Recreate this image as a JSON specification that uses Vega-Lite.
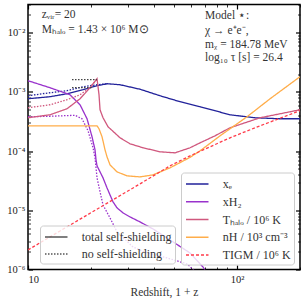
{
  "$schema": "https://vega.github.io/schema/vega-lite/v6.json",
  "autosize": {"type": "none"},
  "padding": {"left": 28, "top": 4.5, "right": 5, "bottom": 34.5},
  "width": 272,
  "height": 265,
  "datasets": {
    "lines": [
      {"id": "xe_t", "s": "xe", "d": "total self-shielding", "x": 10, "y": 7.67e-4},
      {"id": "xe_t", "s": "xe", "d": "total self-shielding", "x": 12.74, "y": 8.30e-4},
      {"id": "xe_t", "s": "xe", "d": "total self-shielding", "x": 15.37, "y": 9.32e-4},
      {"id": "xe_t", "s": "xe", "d": "total self-shielding", "x": 18.33, "y": 1.089e-3},
      {"id": "xe_t", "s": "xe", "d": "total self-shielding", "x": 21.39, "y": 1.273e-3},
      {"id": "xe_t", "s": "xe", "d": "total self-shielding", "x": 23.88, "y": 1.376e-3},
      {"id": "xe_t", "s": "xe", "d": "total self-shielding", "x": 27.56, "y": 1.323e-3},
      {"id": "xe_t", "s": "xe", "d": "total self-shielding", "x": 34.35, "y": 1.11e-3},
      {"id": "xe_t", "s": "xe", "d": "total self-shielding", "x": 42.81, "y": 8.62e-4},
      {"id": "xe_t", "s": "xe", "d": "total self-shielding", "x": 50.51, "y": 7.24e-4},
      {"id": "xe_t", "s": "xe", "d": "total self-shielding", "x": 66.53, "y": 5.62e-4},
      {"id": "xe_t", "s": "xe", "d": "total self-shielding", "x": 92.58, "y": 4.11e-4},
      {"id": "xe_t", "s": "xe", "d": "total self-shielding", "x": 121.93, "y": 3.66e-4},
      {"id": "xe_t", "s": "xe", "d": "total self-shielding", "x": 160.65, "y": 3.52e-4},
      {"id": "xe_t", "s": "xe", "d": "total self-shielding", "x": 200, "y": 3.52e-4},
      {"id": "xe_n", "s": "xe", "d": "no self-shielding", "x": 10, "y": 8.62e-4},
      {"id": "xe_n", "s": "xe", "d": "no self-shielding", "x": 12.74, "y": 9.69e-4},
      {"id": "xe_n", "s": "xe", "d": "no self-shielding", "x": 15.37, "y": 1.048e-3},
      {"id": "xe_n", "s": "xe", "d": "no self-shielding", "x": 18.33, "y": 1.225e-3},
      {"id": "xe_n", "s": "xe", "d": "no self-shielding", "x": 21.39, "y": 1.323e-3},
      {"id": "xe_n", "s": "xe", "d": "no self-shielding", "x": 23.88, "y": 1.376e-3},
      {"id": "h2_t", "s": "xH2", "d": "total self-shielding", "x": 10, "y": 1.547e-3},
      {"id": "h2_t", "s": "xH2", "d": "total self-shielding", "x": 12.74, "y": 1.178e-3},
      {"id": "h2_t", "s": "xH2", "d": "total self-shielding", "x": 15.88, "y": 8.97e-4},
      {"id": "h2_t", "s": "xH2", "d": "total self-shielding", "x": 17.74, "y": 6.07e-4},
      {"id": "h2_t", "s": "xH2", "d": "total self-shielding", "x": 19.16, "y": 3.52e-4},
      {"id": "h2_t", "s": "xH2", "d": "total self-shielding", "x": 20.24, "y": 1.75e-4},
      {"id": "h2_t", "s": "xH2", "d": "total self-shielding", "x": 20.92, "y": 1.05e-4},
      {"id": "h2_t", "s": "xH2", "d": "total self-shielding", "x": 21.15, "y": 7.13e-5},
      {"id": "h2_t", "s": "xH2", "d": "total self-shielding", "x": 21.39, "y": 5.64e-5},
      {"id": "h2_t", "s": "xH2", "d": "total self-shielding", "x": 22.11, "y": 4.46e-5},
      {"id": "h2_t", "s": "xH2", "d": "total self-shielding", "x": 22.85, "y": 3.53e-5},
      {"id": "h2_t", "s": "xH2", "d": "total self-shielding", "x": 23.88, "y": 2.39e-5},
      {"id": "h2_t", "s": "xH2", "d": "total self-shielding", "x": 24.68, "y": 1.82e-5},
      {"id": "h2_t", "s": "xH2", "d": "total self-shielding", "x": 25.51, "y": 1.39e-5},
      {"id": "h2_t", "s": "xH2", "d": "total self-shielding", "x": 26.66, "y": 1.10e-5},
      {"id": "h2_t", "s": "xH2", "d": "total self-shielding", "x": 28.48, "y": 9.04e-6},
      {"id": "h2_t", "s": "xH2", "d": "total self-shielding", "x": 30.77, "y": 7.73e-6},
      {"id": "h2_t", "s": "xH2", "d": "total self-shielding", "x": 34.35, "y": 6.36e-6},
      {"id": "h2_t", "s": "xH2", "d": "total self-shielding", "x": 39.63, "y": 4.84e-6},
      {"id": "h2_t", "s": "xH2", "d": "total self-shielding", "x": 47.79, "y": 3.16e-6},
      {"id": "h2_t", "s": "xH2", "d": "total self-shielding", "x": 59.60, "y": 1.90e-6},
      {"id": "h2_t", "s": "xH2", "d": "total self-shielding", "x": 68.77, "y": 1.10e-6},
      {"id": "h2_t", "s": "xH2", "d": "total self-shielding", "x": 71.08, "y": 9.07e-7},
      {"id": "h2_n", "s": "xH2", "d": "no self-shielding", "x": 10, "y": 3.81e-4},
      {"id": "h2_n", "s": "xH2", "d": "no self-shielding", "x": 12.74, "y": 3.88e-4},
      {"id": "h2_n", "s": "xH2", "d": "no self-shielding", "x": 16.79, "y": 4.03e-4},
      {"id": "h2_n", "s": "xH2", "d": "no self-shielding", "x": 18.13, "y": 3.52e-4},
      {"id": "h2_n", "s": "xH2", "d": "no self-shielding", "x": 19.37, "y": 2.21e-4},
      {"id": "h2_n", "s": "xH2", "d": "no self-shielding", "x": 20.46, "y": 1.14e-4},
      {"id": "h2_n", "s": "xH2", "d": "no self-shielding", "x": 20.92, "y": 7.70e-5},
      {"id": "h2_n", "s": "xH2", "d": "no self-shielding", "x": 21.39, "y": 3.53e-5},
      {"id": "h2_n", "s": "xH2", "d": "no self-shielding", "x": 22.11, "y": 2.05e-5},
      {"id": "h2_n", "s": "xH2", "d": "no self-shielding", "x": 22.85, "y": 1.23e-5},
      {"id": "h2_n", "s": "xH2", "d": "no self-shielding", "x": 24.68, "y": 7.43e-6},
      {"id": "h2_n", "s": "xH2", "d": "no self-shielding", "x": 26.66, "y": 4.31e-6},
      {"id": "h2_n", "s": "xH2", "d": "no self-shielding", "x": 31.80, "y": 2.40e-6},
      {"id": "h2_n", "s": "xH2", "d": "no self-shielding", "x": 37.10, "y": 1.90e-6},
      {"id": "h2_n", "s": "xH2", "d": "no self-shielding", "x": 46.25, "y": 1.57e-6},
      {"id": "h2_n", "s": "xH2", "d": "no self-shielding", "x": 57.65, "y": 1.24e-6},
      {"id": "h2_n", "s": "xH2", "d": "no self-shielding", "x": 63.67, "y": 9.07e-7},
      {"id": "th_t", "s": "Thalo", "d": "total self-shielding", "x": 10, "y": 3.66e-4},
      {"id": "th_t", "s": "Thalo", "d": "total self-shielding", "x": 12.74, "y": 4.11e-4},
      {"id": "th_t", "s": "Thalo", "d": "total self-shielding", "x": 15.37, "y": 5.20e-4},
      {"id": "th_t", "s": "Thalo", "d": "total self-shielding", "x": 17.74, "y": 7.67e-4},
      {"id": "th_t", "s": "Thalo", "d": "total self-shielding", "x": 19.80, "y": 1.178e-3},
      {"id": "th_t", "s": "Thalo", "d": "total self-shielding", "x": 21.39, "y": 1.672e-3},
      {"id": "th_t", "s": "Thalo", "d": "total self-shielding", "x": 21.86, "y": 8.97e-4},
      {"id": "th_t", "s": "Thalo", "d": "total self-shielding", "x": 22.11, "y": 5.00e-4},
      {"id": "th_t", "s": "Thalo", "d": "total self-shielding", "x": 22.85, "y": 3.66e-4},
      {"id": "th_t", "s": "Thalo", "d": "total self-shielding", "x": 24.14, "y": 2.58e-4},
      {"id": "th_t", "s": "Thalo", "d": "total self-shielding", "x": 27.56, "y": 1.68e-4},
      {"id": "th_t", "s": "Thalo", "d": "total self-shielding", "x": 30.77, "y": 1.33e-4},
      {"id": "th_t", "s": "Thalo", "d": "total self-shielding", "x": 35.50, "y": 1.14e-4},
      {"id": "th_t", "s": "Thalo", "d": "total self-shielding", "x": 42.81, "y": 9.73e-5},
      {"id": "th_t", "s": "Thalo", "d": "total self-shielding", "x": 50.51, "y": 9.36e-5},
      {"id": "th_t", "s": "Thalo", "d": "total self-shielding", "x": 59.60, "y": 1.14e-4},
      {"id": "th_t", "s": "Thalo", "d": "total self-shielding", "x": 66.53, "y": 1.38e-4},
      {"id": "th_t", "s": "Thalo", "d": "total self-shielding", "x": 78.49, "y": 1.815e-4},
      {"id": "th_t", "s": "Thalo", "d": "total self-shielding", "x": 92.58, "y": 2.48e-4},
      {"id": "th_t", "s": "Thalo", "d": "total self-shielding", "x": 128.85, "y": 3.66e-4},
      {"id": "th_t", "s": "Thalo", "d": "total self-shielding", "x": 179.3, "y": 4.62e-4},
      {"id": "th_t", "s": "Thalo", "d": "total self-shielding", "x": 200, "y": 5.00e-4},
      {"id": "th_n", "s": "Thalo", "d": "no self-shielding", "x": 10, "y": 5.40e-4},
      {"id": "th_n", "s": "Thalo", "d": "no self-shielding", "x": 12.74, "y": 6.07e-4},
      {"id": "th_n", "s": "Thalo", "d": "no self-shielding", "x": 15.37, "y": 7.38e-4},
      {"id": "th_n", "s": "Thalo", "d": "no self-shielding", "x": 17.74, "y": 8.97e-4},
      {"id": "th_n", "s": "Thalo", "d": "no self-shielding", "x": 19.80, "y": 1.178e-3},
      {"id": "th_n", "s": "Thalo", "d": "no self-shielding", "x": 21.39, "y": 1.672e-3},
      {"id": "nh_t", "s": "nH", "d": "total self-shielding", "x": 10, "y": 2.68e-4},
      {"id": "nh_t", "s": "nH", "d": "total self-shielding", "x": 21.39, "y": 2.68e-4},
      {"id": "nh_t", "s": "nH", "d": "total self-shielding", "x": 21.86, "y": 2.38e-4},
      {"id": "nh_t", "s": "nH", "d": "total self-shielding", "x": 22.60, "y": 1.75e-4},
      {"id": "nh_t", "s": "nH", "d": "total self-shielding", "x": 23.36, "y": 1.05e-4},
      {"id": "nh_t", "s": "nH", "d": "total self-shielding", "x": 23.88, "y": 8.0e-5},
      {"id": "nh_t", "s": "nH", "d": "total self-shielding", "x": 24.68, "y": 5.86e-5},
      {"id": "nh_t", "s": "nH", "d": "total self-shielding", "x": 26.66, "y": 4.46e-5},
      {"id": "nh_t", "s": "nH", "d": "total self-shielding", "x": 29.77, "y": 3.82e-5},
      {"id": "nh_t", "s": "nH", "d": "total self-shielding", "x": 34.35, "y": 3.67e-5},
      {"id": "nh_t", "s": "nH", "d": "total self-shielding", "x": 39.63, "y": 3.97e-5},
      {"id": "nh_t", "s": "nH", "d": "total self-shielding", "x": 47.79, "y": 5.22e-5},
      {"id": "nh_t", "s": "nH", "d": "total self-shielding", "x": 59.60, "y": 7.85e-5},
      {"id": "nh_t", "s": "nH", "d": "total self-shielding", "x": 66.53, "y": 1.012e-4},
      {"id": "nh_t", "s": "nH", "d": "total self-shielding", "x": 82.94, "y": 1.815e-4},
      {"id": "nh_t", "s": "nH", "d": "total self-shielding", "x": 111.66, "y": 3.81e-4},
      {"id": "nh_t", "s": "nH", "d": "total self-shielding", "x": 143.88, "y": 7.67e-4},
      {"id": "nh_t", "s": "nH", "d": "total self-shielding", "x": 200, "y": 1.808e-3},
      {"id": "tigm", "s": "TIGM", "d": "IGM", "x": 10, "y": 2.14e-6},
      {"id": "tigm", "s": "TIGM", "d": "IGM", "x": 14.23, "y": 4.48e-6},
      {"id": "tigm", "s": "TIGM", "d": "IGM", "x": 22.11, "y": 1.12e-5},
      {"id": "tigm", "s": "TIGM", "d": "IGM", "x": 34.35, "y": 2.80e-5},
      {"id": "tigm", "s": "TIGM", "d": "IGM", "x": 47.79, "y": 5.64e-5},
      {"id": "tigm", "s": "TIGM", "d": "IGM", "x": 59.60, "y": 8.33e-5},
      {"id": "tigm", "s": "TIGM", "d": "IGM", "x": 92.58, "y": 1.68e-4},
      {"id": "tigm", "s": "TIGM", "d": "IGM", "x": 128.85, "y": 2.68e-4},
      {"id": "tigm", "s": "TIGM", "d": "IGM", "x": 200, "y": 4.81e-4},
      {"id": "g1", "s": "guide", "d": "no self-shielding", "x": 16.24, "y": 1.608e-3},
      {"id": "g1", "s": "guide", "d": "no self-shielding", "x": 21.39, "y": 1.608e-3},
      {"id": "g2", "s": "guide", "d": "no self-shielding", "x": 16.24, "y": 1.178e-3},
      {"id": "g2", "s": "guide", "d": "no self-shielding", "x": 20.46, "y": 1.178e-3}
    ],
    "notes": [
      {"x": 11.63, "y": 0.0202, "t": "zᵥᵢᵣ= 20"},
      {"x": 11.63, "y": 0.01128, "t": "Mₕₐₗₒ = 1.43 × 10⁶ M⊙"},
      {"x": 70.3, "y": 0.01947, "t": "Model ⋆:"},
      {"x": 70.3, "y": 0.01085, "t": "χ → e⁺e⁻,"},
      {"x": 70.3, "y": 0.00629, "t": "mᵪ = 184.78 MeV"},
      {"x": 70.3, "y": 0.00379, "t": "log₁₀ τ [s] = 26.4"}
    ]
  },
  "config": {
    "view": {"stroke": "#000", "strokeWidth": 1.5},
    "axis": {
      "grid": false, "domain": false, "tickColor": "#000",
      "labelFont": "Liberation Serif", "labelFontSize": 10.5, "labelColor": "#222",
      "titleFont": "Liberation Serif", "titleFontSize": 11.5, "titleFontWeight": "normal", "titleColor": "#333"
    },
    "legend": {
      "labelFont": "Liberation Serif", "labelFontSize": 12, "labelColor": "#333",
      "fillColor": "rgba(255,255,255,0.8)", "strokeColor": "#cccccc", "cornerRadius": 3,
      "symbolType": "M-1.5,0H1.5", "symbolStrokeWidth": 1.5, "symbolSize": 225,
      "symbolOffset": 4.75, "labelOffset": 17, "padding": 3
    }
  },
  "layer": [
    {
      "data": {"name": "lines"},
      "mark": {"type": "line", "strokeWidth": 1.3, "clip": true},
      "encoding": {
        "x": {
          "field": "x", "type": "quantitative",
          "scale": {"type": "log", "domain": [10, 200]},
          "axis": {
            "orient": "bottom", "title": "Redshift, 1 + z", "titlePadding": 2, "titleFontWeight": "normal",
            "values": [10, 20, 30, 40, 50, 60, 70, 80, 90, 100, 200],
            "labelExpr": "datum.value == 10 ? '10' : datum.value == 100 ? '10²' : ''",
            "labelPadding": 9,
            "tickSize": {"condition": {"test": "abs(log(datum.value)/LN10 - round(log(datum.value)/LN10)) < 1e-6", "value": -4.5}, "value": -2.5},
            "tickWidth": {"condition": {"test": "abs(log(datum.value)/LN10 - round(log(datum.value)/LN10)) < 1e-6", "value": 1.2}, "value": 0.8}
          }
        },
        "y": {
          "field": "y", "type": "quantitative",
          "scale": {"type": "log", "domain": [1e-6, 0.03]},
          "axis": {
            "orient": "left", "title": null,
            "values": [1e-6, 2e-6, 3e-6, 4e-6, 5e-6, 6e-6, 7e-6, 8e-6, 9e-6, 1e-5, 2e-5, 3e-5, 4e-5, 5e-5, 6e-5, 7e-5, 8e-5, 9e-5, 1e-4, 2e-4, 3e-4, 4e-4, 5e-4, 6e-4, 7e-4, 8e-4, 9e-4, 1e-3, 2e-3, 3e-3, 4e-3, 5e-3, 6e-3, 7e-3, 8e-3, 9e-3, 0.01, 0.02, 0.03],
            "labelExpr": "datum.value == 1e-6 ? '10⁻⁶' : datum.value == 1e-5 ? '10⁻⁵' : datum.value == 1e-4 ? '10⁻⁴' : datum.value == 1e-3 ? '10⁻³' : datum.value == 0.01 ? '10⁻²' : ''",
            "labelPadding": 7.5,
            "tickSize": {"condition": {"test": "abs(log(datum.value)/LN10 - round(log(datum.value)/LN10)) < 1e-6", "value": -4.5}, "value": -2.5},
            "tickWidth": {"condition": {"test": "abs(log(datum.value)/LN10 - round(log(datum.value)/LN10)) < 1e-6", "value": 1.2}, "value": 0.8}
          }
        },
        "color": {
          "field": "s", "type": "nominal",
          "scale": {"domain": ["xe", "xH2", "Thalo", "nH", "TIGM", "guide"], "range": ["#22229a", "#9932cc", "#d0587e", "#ffad4a", "#ff3b4a", "#444444"]},
          "legend": {
            "title": null, "orient": "none", "legendX": 153, "legendY": 168,
            "values": ["xe", "xH2", "Thalo", "nH", "TIGM"],
            "rowPadding": 2.75,
            "labelExpr": "datum.label == 'xe' ? 'xₑ' : datum.label == 'xH2' ? 'xH₂' : datum.label == 'Thalo' ? 'Tₕₐₗₒ / 10⁶ K' : datum.label == 'nH' ? 'nH / 10³ cm⁻³' : 'TIGM / 10⁶ K'",
            "encoding": {"symbols": {"strokeDash": {"condition": {"test": "datum.value == 'TIGM'", "value": [3, 2]}, "value": [1, 0]}}}
          }
        },
        "strokeDash": {
          "field": "d", "type": "nominal",
          "scale": {"domain": ["total self-shielding", "no self-shielding", "IGM"], "range": [[1, 0], [1.5, 1.5], [3, 2]]},
          "legend": {
            "title": null, "orient": "none", "legendX": 12, "legendY": 221,
            "values": ["total self-shielding", "no self-shielding"],
            "symbolStrokeColor": "#000", "symbolStrokeWidth": 1.2, "rowPadding": 2
          }
        },
        "detail": {"field": "id"}
      }
    },
    {
      "data": {"name": "notes"},
      "mark": {"type": "text", "align": "left", "baseline": "middle", "font": "Liberation Serif", "fontSize": 11.5, "color": "#333"},
      "encoding": {
        "x": {
          "field": "x", "type": "quantitative",
          "scale": {"type": "log", "domain": [10, 200]},
          "axis": {
            "orient": "top", "title": null, "labels": false,
            "values": [10, 20, 30, 40, 50, 60, 70, 80, 90, 100, 200],
            "tickSize": {"condition": {"test": "abs(log(datum.value)/LN10 - round(log(datum.value)/LN10)) < 1e-6", "value": -4.5}, "value": -2.5},
            "tickWidth": {"condition": {"test": "abs(log(datum.value)/LN10 - round(log(datum.value)/LN10)) < 1e-6", "value": 1.2}, "value": 0.8}
          }
        },
        "y": {
          "field": "y", "type": "quantitative",
          "scale": {"type": "log", "domain": [1e-6, 0.03]},
          "axis": {
            "orient": "right", "title": null, "labels": false,
            "values": [1e-6, 2e-6, 3e-6, 4e-6, 5e-6, 6e-6, 7e-6, 8e-6, 9e-6, 1e-5, 2e-5, 3e-5, 4e-5, 5e-5, 6e-5, 7e-5, 8e-5, 9e-5, 1e-4, 2e-4, 3e-4, 4e-4, 5e-4, 6e-4, 7e-4, 8e-4, 9e-4, 1e-3, 2e-3, 3e-3, 4e-3, 5e-3, 6e-3, 7e-3, 8e-3, 9e-3, 0.01, 0.02, 0.03],
            "tickSize": {"condition": {"test": "abs(log(datum.value)/LN10 - round(log(datum.value)/LN10)) < 1e-6", "value": -4.5}, "value": -2.5},
            "tickWidth": {"condition": {"test": "abs(log(datum.value)/LN10 - round(log(datum.value)/LN10)) < 1e-6", "value": 1.2}, "value": 0.8}
          }
        },
        "text": {"field": "t", "type": "nominal"}
      }
    }
  ],
  "resolve": {"axis": {"x": "independent", "y": "independent"}}
}
